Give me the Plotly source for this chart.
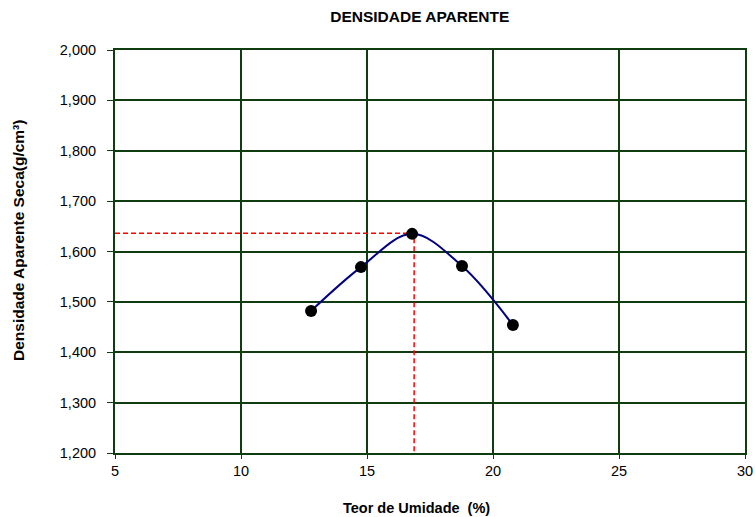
import plotly.graph_objects as go

umidade = [12.78, 14.76, 16.79, 18.77, 20.79]
densidade = [1.482, 1.569, 1.635, 1.571, 1.454]
ref_x = [5, 16.87, 16.87]
ref_y = [1.636, 1.636, 1.2]
y_ticks = [1.2, 1.3, 1.4, 1.5, 1.6, 1.7, 1.8, 1.9, 2.0]
y_labels = ["1,200", "1,300", "1,400", "1,500", "1,600", "1,700", "1,800", "1,900", "2,000"]
x_ticks = [5, 10, 15, 20, 25, 30]

grid = "#0f3d10"
font = "Liberation Sans, Arial, sans-serif"

fig = go.Figure()
fig.add_trace(go.Scatter(x=ref_x, y=ref_y, mode="lines",
                         line=dict(color="#ff0000", width=1.5, dash="5px,3px"),
                         hoverinfo="skip", showlegend=False))
fig.add_trace(go.Scatter(x=umidade, y=densidade, mode="lines",
                         line=dict(color="#000080", width=2, shape="spline", smoothing=1.0),
                         showlegend=False))
fig.add_trace(go.Scatter(x=umidade, y=densidade, mode="markers",
                         marker=dict(color="black", size=12),
                         showlegend=False))

fig.update_layout(
    width=755, height=517,
    margin=dict(l=115, r=10, t=50, b=64),
    paper_bgcolor="white", plot_bgcolor="white",
    font=dict(family=font, size=13, color="black"),
    title=dict(text="<b>DENSIDADE APARENTE</b>", x=0.556, xref="container",
               y=0.967, yref="container", xanchor="center", yanchor="middle",
               font=dict(size=15.5, family=font, color="black")),
    xaxis=dict(range=[5, 30], tickvals=x_ticks, showgrid=True, gridcolor=grid, gridwidth=2,
               zeroline=False, showline=True, linecolor=grid, linewidth=2, mirror=True,
               ticks="outside", ticklen=4, tickcolor=grid, automargin=False,
               tickfont=dict(size=14.5)),
    yaxis=dict(range=[1.2, 2.0], tickvals=y_ticks, ticktext=y_labels, showgrid=True,
               gridcolor=grid, gridwidth=2, zeroline=False, showline=True, linecolor=grid,
               linewidth=2, mirror=True, ticks="outside", ticklen=6, tickcolor=grid,
               automargin=False, tickfont=dict(size=14.5), ticklabelstandoff=8),
    annotations=[
        dict(text="<b>Teor de Umidade  (%)</b>", xref="paper", yref="paper",
             x=0.479, y=0, yshift=-55, xanchor="center", yanchor="middle",
             showarrow=False, font=dict(size=14.5, family=font, color="black")),
        dict(text="<b>Densidade Aparente Seca(g/cm³)</b>", xref="paper", yref="paper",
             x=0, xshift=-97, y=0.526, xanchor="center", yanchor="middle", textangle=-90,
             showarrow=False, font=dict(size=15.5, family=font, color="black")),
    ],
)

fig.write_html("out.html", config={"displayModeBar": False},
               post_script="document.body.style.margin='0';document.body.style.overflow='hidden';")
